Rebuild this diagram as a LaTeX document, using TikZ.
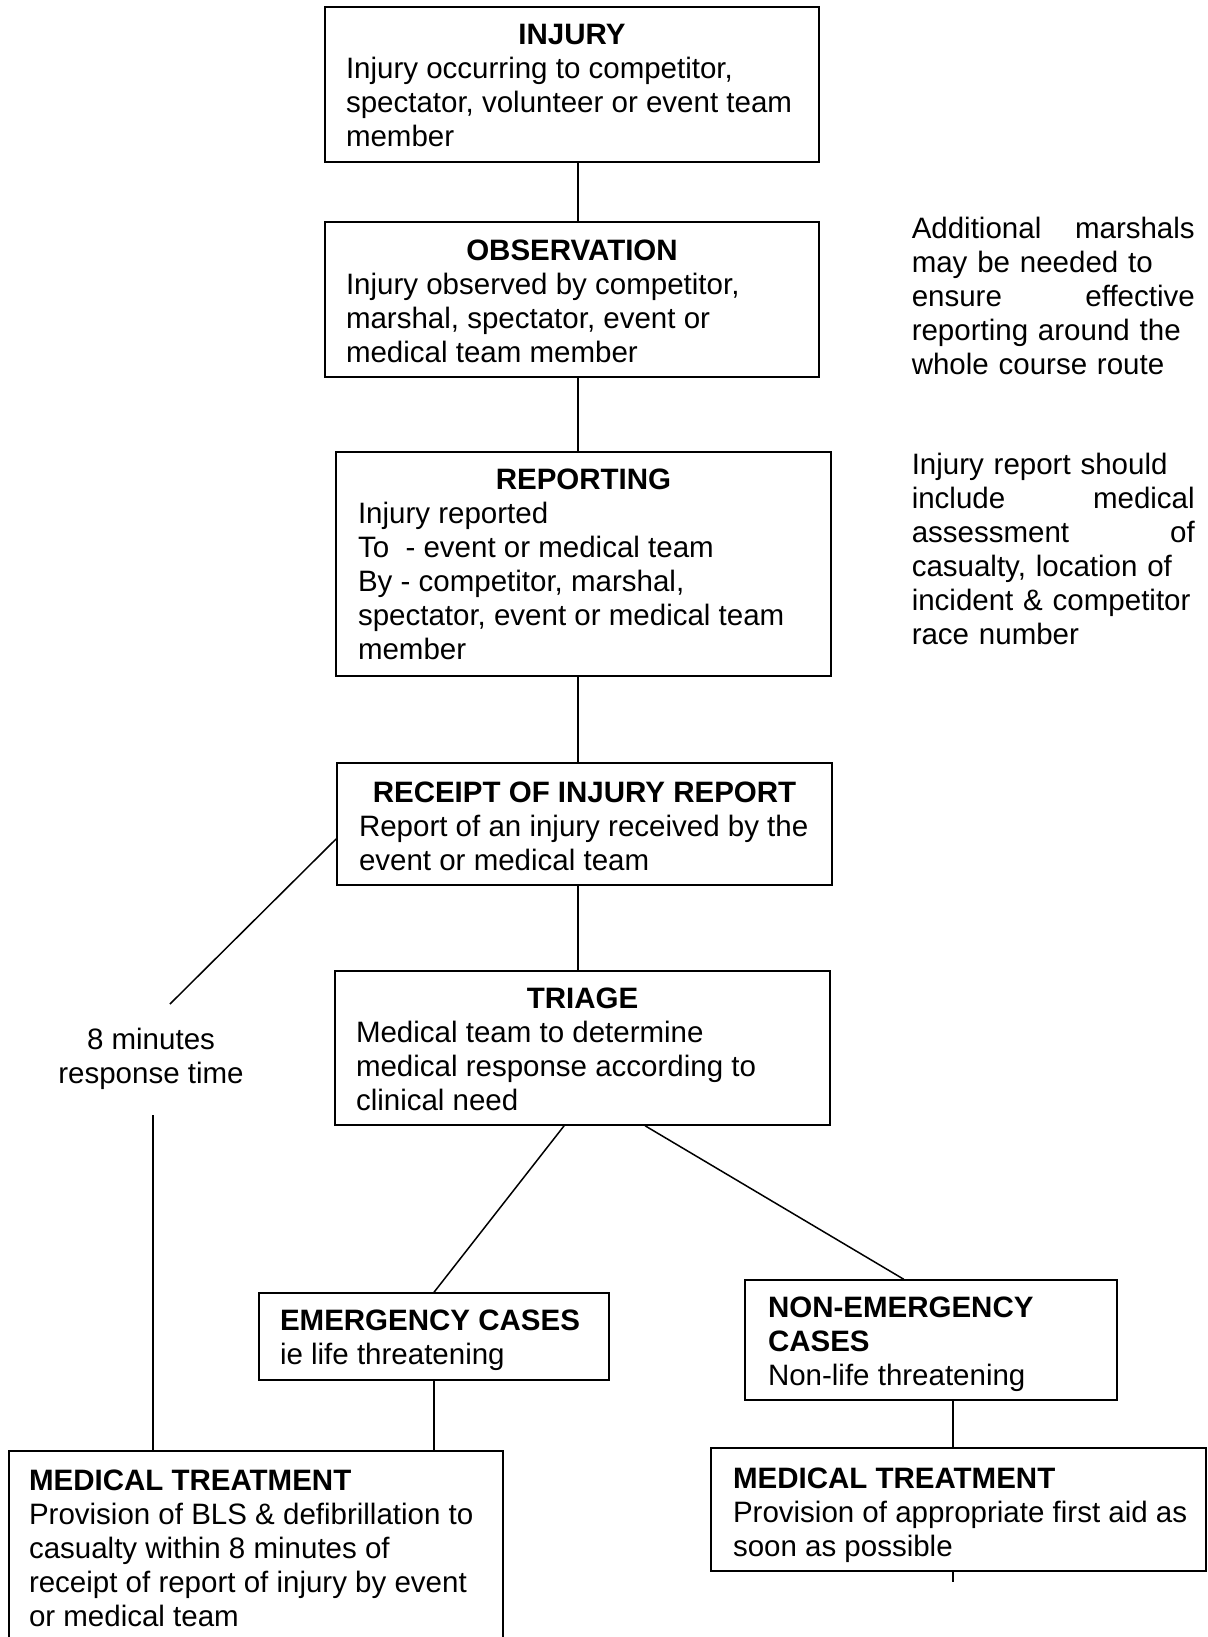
\documentclass[tikz,border=0pt]{standalone}
\usepackage{fontspec}
\setmainfont{Liberation Sans}
\usetikzlibrary{fit,calc}
\begin{document}
\begin{tikzpicture}[x=0.5pt,y=-0.5pt,line width=0.75pt,
  box/.style={draw,inner sep=0pt},
  body/.style={anchor=base west,inner sep=0pt,align=left,font=\fontsize{14.75}{17}\selectfont},
  ttl/.style={anchor=base,inner sep=0pt,font=\fontsize{14.75}{17}\selectfont\bfseries},
  ttlw/.style={anchor=base west,inner sep=0pt,align=left,font=\fontsize{14.75}{17}\selectfont\bfseries},
  side/.style={anchor=base west,inner sep=0pt,align=left,text width=141.5pt,font=\fontsize{14.75}{17}\selectfont},
]
\useasboundingbox (0,0) rectangle (1207,1637);

% boxes
\node[box,fit={(325,7) (819,162)}] (inj) {};
\node[box,fit={(325,222) (819,377)}] (obs) {};
\node[box,fit={(336,452) (831,676)}] (rep) {};
\node[box,fit={(337,763) (832,885)}] (rec) {};
\node[box,fit={(335,971) (830,1125)}] (tri) {};
\node[box,fit={(259,1293) (609,1380)}] (emg) {};
\node[box,fit={(745,1280) (1117,1400)}] (nem) {};
\node[box,fit={(9,1451) (503,1660)}] (mtl) {};
\node[box,fit={(711,1448) (1206,1571)}] (mtr) {};

% texts (base anchor of a multi-line node = baseline of its last line)
\node[ttl] (inj-t) at ($(inj.north)+(0,38)$) {INJURY};
\node[body] (inj-b) at ($(inj.north west)+(21,140)$) {Injury occurring to competitor,\\spectator, volunteer or event team\\member};

\node[ttl] (obs-t) at ($(obs.north)+(0,39)$) {OBSERVATION};
\node[body] (obs-b) at ($(obs.north west)+(21,141)$) {Injury observed by competitor,\\marshal, spectator, event or\\medical team member};

\node[ttl] (rep-t) at ($(rep.north)+(0,38)$) {REPORTING};
\node[body] (rep-b) at ($(rep.north west)+(22,208)$) {Injury reported\\To~~- event or medical team\\By - competitor, marshal,\\spectator, event or medical team\\member};

\node[ttl] (rec-t) at ($(rec.north)+(0,40)$) {RECEIPT OF INJURY REPORT};
\node[body] (rec-b) at ($(rec.north west)+(22,108)$) {Report of an injury received by the\\event or medical team};

\node[ttl] (tri-t) at ($(tri.north)+(0,38)$) {TRIAGE};
\node[body] (tri-b) at ($(tri.north west)+(21,140)$) {Medical team to determine\\medical response according to\\clinical need};

\node[ttlw] (emg-t) at ($(emg.north west)+(21,38)$) {EMERGENCY CASES};
\node[body] (emg-b) at ($(emg.north west)+(21,72)$) {ie life threatening};

\node[ttlw] (nem-t) at ($(nem.north west)+(23,72)$) {NON-EMERGENCY\\CASES};
\node[body] (nem-b) at ($(nem.north west)+(23,106)$) {Non-life threatening};

\node[ttlw] (mtl-t) at ($(mtl.north west)+(20,40)$) {MEDICAL TREATMENT};
\node[body] (mtl-b) at ($(mtl.north west)+(20,176)$) {Provision of BLS \& defibrillation to\\casualty within 8 minutes of\\receipt of report of injury by event\\or medical team};

\node[ttlw] (mtr-t) at ($(mtr.north west)+(22,41)$) {MEDICAL TREATMENT};
\node[body] (mtr-b) at ($(mtr.north west)+(22,109)$) {Provision of appropriate first aid as\\soon as possible};

\node[side] (note1) at (911,239) {Additional \hfill marshals\\may be needed to\\ensure \hfill effective\\reporting around the\\whole course route};
\node[side] (note2) at (911,474) {Injury report should\\include \hfill medical\\assessment \hfill of\\casualty, location of\\incident \& competitor\\race number};

\node[anchor=base,inner sep=0pt,align=center,font=\fontsize{14.75}{17}\selectfont] (resp) at (151,1083) {8 minutes\\response time};

% connectors
\coordinate (spine) at (578,0);
\coordinate (d1) at (170,1004);
\coordinate (v1) at (153,1115);
\coordinate (nx) at (953,0);

\draw (inj.south -| spine) -- (obs.north -| spine);
\draw (obs.south -| spine) -- (rep.north -| spine);
\draw (rep.south -| spine) -- (rec.north -| spine);
\draw (rec.south -| spine) -- (tri.north -| spine);
\draw ($(tri.south west)!0.463!(tri.south east)$) -- (emg.north);
\draw ($(tri.south west)!0.626!(tri.south east)$) -- ($(nem.north west)!0.427!(nem.north east)$);
\draw (emg.south) -- (emg.south |- mtl.north);
\draw (nem.south -| nx) -- (mtr.north -| nx);
\draw (mtr.south -| nx) -- ++(0,10);
\draw ($(rec.north west)!0.62!(rec.south west)$) -- (d1);
\draw (v1) -- (v1 |- mtl.north);
\end{tikzpicture}
\end{document}
